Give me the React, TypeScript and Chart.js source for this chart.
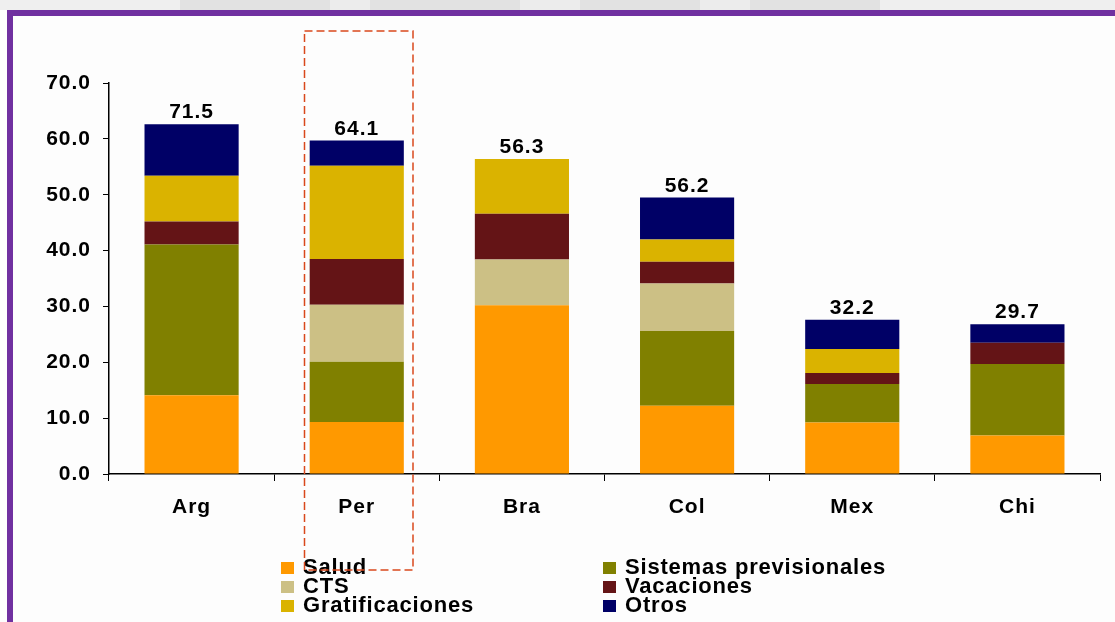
import React, { useEffect, useRef } from "react";
import { Chart, registerables } from "chart.js";

Chart.register(...registerables);

const categories = ["Arg", "Per", "Bra", "Col", "Mex", "Chi"];
const salud = [14.1, 9.3, 30.2, 12.2, 9.2, 6.9];
const sistemas = [27.0, 10.8, 0, 13.4, 6.9, 12.8];
const cts = [0, 10.2, 8.2, 8.5, 0, 0];
const vacaciones = [4.1, 8.2, 8.2, 3.9, 2.0, 3.8];
const gratificaciones = [8.2, 16.7, 9.8, 4.0, 4.3, 0];
const otros = [9.2, 4.5, 0, 7.5, 5.2, 3.3];
const totalLabels = [71.5, 64.1, 56.3, 56.2, 32.2, 29.7];
const yTicks = [0, 10, 20, 30, 40, 50, 60, 70];

const seriesNames = ["Salud", "Sistemas previsionales", "CTS", "Vacaciones", "Gratificaciones", "Otros"];
const seriesColors = ["#FF9900", "#808000", "#CCC085", "#641416", "#DAB300", "#000066"];
const seriesValues = [salud, sistemas, cts, vacaciones, gratificaciones, otros];

const FONT = "'Liberation Sans', Arial, sans-serif";

const framePlugin = {
  id: "frame",
  beforeDraw(chart: any) {
    const ctx = chart.ctx;
    ctx.save();
    ctx.fillStyle = "#fdfdfd";
    ctx.fillRect(0, 0, chart.width, chart.height);
    // faint watermark strip above frame
    ctx.fillStyle = "#efefef";
    ctx.fillRect(0, 0, chart.width, 10);
    ctx.fillStyle = "#e2e2e2";
    ctx.fillRect(180, 0, 700, 10);
    ctx.fillStyle = "#ececec";
    ctx.fillRect(330, 0, 40, 10);
    ctx.fillRect(520, 0, 60, 10);
    ctx.fillRect(700, 0, 50, 10);
    // purple frame
    ctx.fillStyle = "#7030A0";
    ctx.fillRect(7, 10, chart.width - 7, 6);
    ctx.fillRect(7, 10, 6, chart.height - 10);
    ctx.restore();
    ctx.letterSpacing = "1px";
  },
  afterDraw(chart: any) {
    const ctx = chart.ctx;
    ctx.save();
    ctx.letterSpacing = "0.8px";
    // legend
    const cols = [
      { box: 281, text: 303 },
      { box: 603, text: 625 },
    ];
    const rows = [574, 593, 612];
    ctx.font = `bold 22px ${FONT}`;
    ctx.textBaseline = "alphabetic";
    ctx.textAlign = "left";
    seriesNames.forEach((name, i) => {
      const c = cols[i % 2];
      const base = rows[Math.floor(i / 2)];
      ctx.fillStyle = seriesColors[i];
      ctx.fillRect(c.box, base - 12, 13, 12);
      ctx.fillStyle = "#000";
      ctx.fillText(name, c.text, base);
    });
    // red dashed highlight box
    ctx.letterSpacing = "0px";
    ctx.strokeStyle = "#D9481C";
    ctx.lineWidth = 1.5;
    ctx.setLineDash([8, 4]);
    ctx.strokeRect(304.5, 31, 108.5, 539);
    ctx.restore();
  },
};

const totalsPlugin = {
  id: "totals",
  afterDatasetsDraw(chart: any) {
    const ctx = chart.ctx;
    const xs = chart.scales.x;
    const ys = chart.scales.y;
    ctx.save();
    ctx.letterSpacing = "1px";
    ctx.font = `bold 21px ${FONT}`;
    ctx.fillStyle = "#000";
    ctx.textAlign = "center";
    ctx.textBaseline = "alphabetic";
    categories.forEach((_, i) => {
      const sum = seriesValues.reduce((a, s) => a + s[i], 0);
      const x = xs.getPixelForValue(i);
      const y = ys.getPixelForValue(sum);
      ctx.fillText(totalLabels[i].toFixed(1), x, y - 6);
    });
    ctx.restore();
  },
};

export default function App() {
  const ref = useRef<HTMLCanvasElement>(null);
  useEffect(() => {
    if (!ref.current) return;
    const chart = new Chart(ref.current, {
      type: "bar",
      data: {
        labels: categories,
        datasets: seriesNames.map((name, i) => ({
          label: name,
          data: seriesValues[i],
          backgroundColor: seriesColors[i],
          borderWidth: 0,
          barPercentage: 0.57,
          categoryPercentage: 1,
        })),
      },
      options: {
        responsive: false,
        maintainAspectRatio: false,
        animation: false,
        layout: { padding: { top: 83, right: 15, left: 0, bottom: 0 } },
        plugins: {
          legend: { display: false },
          tooltip: { enabled: false },
        },
        scales: {
          x: {
            stacked: true,
            offset: true,
            grid: {
              display: true,
              drawOnChartArea: false,
              drawTicks: true,
              tickLength: 7,
              color: "#000",
              offset: true,
              lineWidth: 1,
            },
            border: { display: true, color: "#000", width: 1.5 },
            ticks: {
              color: "#000",
              font: { family: FONT, size: 21, weight: "bold" },
              padding: 14,
              maxRotation: 0,
            },
            afterFit: (s: any) => {
              s.height = 148;
            },
          },
          y: {
            stacked: true,
            min: 0,
            max: 70,
            afterBuildTicks: (s: any) => {
              s.ticks = yTicks.map((v) => ({ value: v }));
            },
            grid: {
              display: true,
              drawOnChartArea: false,
              drawTicks: true,
              tickLength: 6,
              color: "#000",
              lineWidth: 1,
            },
            border: { display: true, color: "#000", width: 1.5 },
            ticks: {
              color: "#000",
              font: { family: FONT, size: 21, weight: "bold" },
              padding: 12,
              callback: (v: any) => Number(v).toFixed(1),
            },
            afterFit: (s: any) => {
              s.width = 109;
            },
          },
        },
      },
      plugins: [framePlugin, totalsPlugin],
    } as any);
    return () => chart.destroy();
  }, []);
  return (
    <div style={{ position: "absolute", left: 0, top: 0, width: 1115, height: 622, overflow: "hidden" }}>
      <canvas ref={ref} width={1115} height={622} style={{ display: "block" }} />
    </div>
  );
}
